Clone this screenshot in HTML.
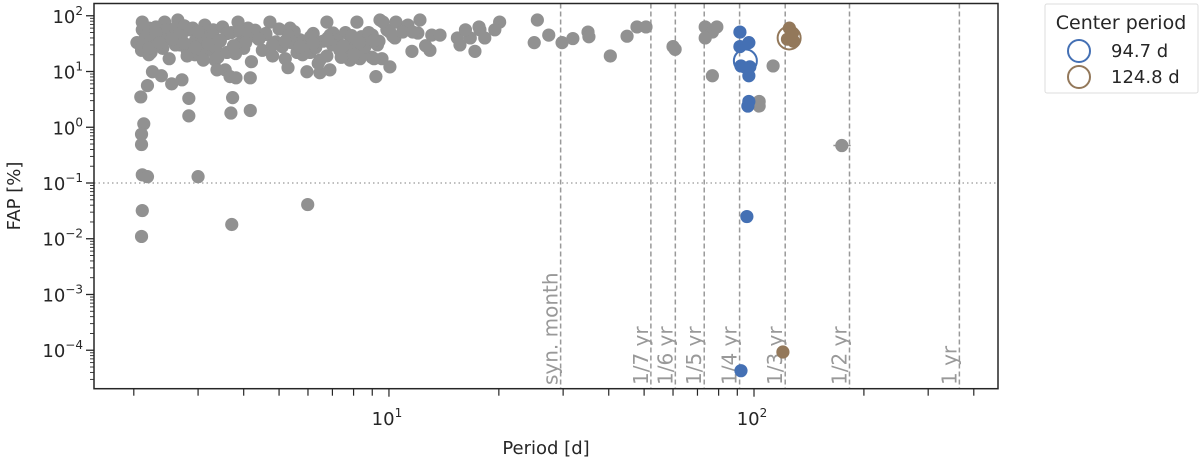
<!DOCTYPE html>
<html><head><meta charset="utf-8"><style>
body{margin:0;background:#fff;}
svg{display:block;font-family:"DejaVu Sans","Liberation Sans",sans-serif;}
</style></head><body>
<svg id="chart" width="1200" height="460" viewBox="0 0 1200 460" xmlns="http://www.w3.org/2000/svg">
<rect x="94" y="3.5" width="904" height="385" fill="#fff"/>
<g id="grid"></g><g id="marks"></g><g id="axes"></g>
<g>
<rect x="1045" y="4" width="153" height="89" fill="#fff" stroke="#ddd" stroke-width="1" rx="2"/>
<text x="1121" y="29" font-size="19" fill="#262626" text-anchor="middle">Center period</text>
<circle cx="1079" cy="51" r="11" fill="none" stroke="#4470b4" stroke-width="2"/>
<text x="1111" y="57" font-size="18" fill="#262626">94.7 d</text>
<circle cx="1079" cy="77" r="11" fill="none" stroke="#93785a" stroke-width="2"/>
<text x="1111" y="83" font-size="18" fill="#262626">124.8 d</text>
</g>
</svg>
<script>
const grayPeriod=[2.11,2.11,2.04,2.1,2.23,2.28,2.43,2.64,2.54,2.68,2.85,3.13,3.03,3.23,2.94,3.34,3.56,3.67,4.11,3.86,4.49,4.72,5.36,5.71,6.08,6.47,7.03,7.34,7.82,8.12,8.54,8.98,9.39,9.87,9.45,10.45,10.25,11.27,12.0,12.95,15.65,16.7,17.75,20.1,
2.09,2.13,2.1,2.1,2.11,2.18,2.11,2.1,2.18,2.25,2.38,2.54,2.71,2.83,2.83,3.0,3.38,3.73,3.69,3.71,3.81,4.17,4.17,5.99,9.21,7.48,8.33,9.57,10.06,8.33,8.17,6.76,6.76,6.89,6.47,5.96,5.29,
9.63,10.06,10.38,10.9,11.63,12.16,11.56,12.6,13.1,13.8,15.4,16.2,17.65,17.2,18.3,19.5,25.5,25.0,27.4,29.8,31.9,35.1,35.3,40.4,44.9,47.8,50.6,60.0,60.8,73.5,76.9,79.1,73.5,76.9,112.8,103.3,103.3,
2.2,2.3,2.45,2.6,2.75,2.9,3.1,3.3,3.5,3.7,3.9,4.3,4.6,5.0,5.5,6.2,6.9,7.6,8.4,9.0,
2.15,2.35,2.5,2.7,2.95,3.2,3.45,3.9,4.4,4.9,5.4,6.0,6.6,7.2,7.9,8.7,9.3,
2.25,2.4,2.6,2.8,3.05,3.35,3.6,4.0,4.5,5.1,5.6,6.3,7.0,7.7,8.6,
2.2,2.5,2.8,3.1,3.4,3.8,4.2,4.8,5.2,5.8,6.4,7.4,8.0,9.1,
2.3,2.65,3.0,3.3,3.6,4.1,4.6,5.3,6.1,6.8,7.9,8.8,
2.12,2.2,2.35,2.55,2.75,2.95,3.2,3.45,3.75,4.05,4.4,4.8,5.2,5.7,6.2,6.8,7.5,8.3,9.1];
const grayFAP=[77,56,33,24,22,37,77,84,45,30,56,68,40,24,20,16,10.7,8.1,60,77,45,77,60,37,22,16,49,24,16,30,22,18,35,56,84,77,43,68,49,24,30,40,56,77,
3.5,1.15,0.75,0.49,0.14,0.13,0.032,0.011,5.6,9.9,8.4,6.0,7.1,3.3,1.6,0.13,10.7,3.4,1.8,0.018,7.7,7.7,2.0,0.041,8.1,19,17,17,12.1,35,77,77,19,10.7,9.5,9.9,11.7,
77,51,40,51,51,84,23,29,45,45,40,56,63,23,40,56,84,33,45,33,39,51,42,19,43,63,63,28,25,63,51,63,40,8.4,12.6,2.9,2.4,
60,63,55,60,66,60,50,56,63,50,52,55,48,58,52,48,45,50,42,45,
40,42,38,44,36,40,35,32,38,34,33,30,35,36,38,34,30,
28,26,30,24,25,27,22,26,24,28,22,27,30,25,28,
20,17,19,16,18,21,15,19,17,20,14,18,20,17,
50,45,52,45,48,40,46,44,42,40,44,50,
30,26,33,38,32,27,31,36,29,33,38,30,35,28,32,37,29,33,36];
const grayErrPeriod=[174],grayXerrLo=[165],grayXerrHi=[184],grayErrFAP=[0.47];
const bluePeriod=[91.5,91.5,96.8,92.1,97.4,96.8,96.8,96.2,95.6,92.1];
const blueFAP=[51,28,33,12.6,12.1,8.4,2.9,2.4,0.025,0.000043];
const brownPeriod=[125.0,127.5,123.5,128.3,120];
const brownFAP=[60,49,38,35,0.000093];
const centerPeriod=[94.7,124.8];
const centerFAP=[15.5,40];
const centerColors=['#4470b4','#93785a'];
const vlinePeriod=[29.53,52.18,60.88,73.05,91.31,121.75,182.63,365.25];
const vlineLabels=['syn. month','1/7 yr','1/6 yr','1/5 yr','1/4 yr','1/3 yr','1/2 yr','1 yr'];
const yTickExp=[2,1,0,-1,-2,-3,-4];
const xTickVals=[10,100];

const NS='http://www.w3.org/2000/svg';
const X0=94,X1=998,Y0=3.5,Y1=388.7;
const LX0=Math.log10(1.556),LX1=Math.log10(466),LY0=-4.69,LY1=2.22;
function xs(p){return X0+(Math.log10(p)-LX0)/(LX1-LX0)*(X1-X0);}
function ys(v){return Y1-(Math.log10(v)-LY0)/(LY1-LY0)*(Y1-Y0);}
function mk(tag,attrs,parent){const e=document.createElementNS(NS,tag);for(const k in attrs)e.setAttribute(k,attrs[k]);parent.appendChild(e);return e;}
const grid=document.getElementById('grid'),marks=document.getElementById('marks'),axes=document.getElementById('axes');

let l=mk('line',{x1:X0,x2:X1,y1:ys(0.1),y2:ys(0.1),stroke:'#999','stroke-width':1.2,'stroke-dasharray':'1.5,3'},grid);


vlinePeriod.forEach((p,i)=>{
 const x=xs(p);
 const ln=mk('line',{x1:x,x2:x,y1:Y0,y2:Y1,stroke:'#999','stroke-width':1.5,'stroke-dasharray':'5,3'},grid);
 
 
 const t=mk('text',{x:0,y:0,'font-size':20,fill:'#999',transform:`translate(${x-3},385) rotate(-90)`},grid);
 t.textContent=vlineLabels[i];
 
 
});
grayPeriod.forEach((p,i)=>{
 const c=mk('circle',{cx:xs(p),cy:ys(grayFAP[i]),r:6.6,fill:'#919191'},marks);
 
 
});
grayErrFAP.forEach((v,i)=>{
 const e=mk('line',{x1:xs(grayXerrLo[i]),x2:xs(grayXerrHi[i]),y1:ys(v),y2:ys(v),stroke:'#919191','stroke-width':1.5},marks);
 
 
 const c=mk('circle',{cx:xs(grayErrPeriod[i]),cy:ys(v),r:6.6,fill:'#919191'},marks);
 
 
});
bluePeriod.forEach((p,i)=>{
 const c=mk('circle',{cx:xs(p),cy:ys(blueFAP[i]),r:6.6,fill:'#4470b4'},marks);
 
 
});
brownPeriod.forEach((p,i)=>{
 const c=mk('circle',{cx:xs(p),cy:ys(brownFAP[i]),r:6.6,fill:'#93785a'},marks);
 
 
});
centerPeriod.forEach((p,i)=>{
 const c=mk('circle',{cx:xs(p),cy:ys(centerFAP[i]),r:11.5,fill:'none',stroke:centerColors[i],'stroke-width':2},marks);
 
 
});
const fr=mk('rect',{x:X0,y:Y0,width:X1-X0,height:Y1-Y0,fill:'none',stroke:'#262626','stroke-width':1.5},axes);


for(let e=-5;e<=2;e++){
 for(let m=1;m<10;m++){
  const v=m*Math.pow(10,e),y=ys(v);
  if(y<Y0-0.5||y>Y1+0.5)continue;
  const tk=mk('line',{x1:X0-(m===1?8:4),x2:X0,y1:y,y2:y,stroke:'#262626','stroke-width':m===1?1.3:0.9},axes);
  
  
 }
}
yTickExp.forEach(e=>{
 const t=mk('text',{x:83,y:ys(Math.pow(10,e))+7,'font-size':18,fill:'#262626','text-anchor':'end'},axes);
 
 
 const s=mk('tspan',{},t);s.textContent='10';
 const sup=mk('tspan',{dy:-8,'font-size':12},t);sup.textContent=e<0?'\u2212'+(-e):String(e);
});
for(let e=0;e<=2;e++){
 for(let m=1;m<10;m++){
  const v=m*Math.pow(10,e),x=xs(v);
  if(x<X0||x>X1)continue;
  const tk=mk('line',{x1:x,x2:x,y1:Y1,y2:Y1+(m===1?8:7),stroke:'#262626','stroke-width':1.2},axes);
  
  
 }
}
xTickVals.forEach(v=>{
 const t=mk('text',{x:xs(v)-2,y:425,'font-size':18,fill:'#262626','text-anchor':'middle'},axes);
 
 
 const s=mk('tspan',{},t);s.textContent='10';
 const sup=mk('tspan',{dy:-8,'font-size':12},t);sup.textContent=String(Math.round(Math.log10(v)));
});
const xt=mk('text',{x:546,y:454,'font-size':18,fill:'#262626','text-anchor':'middle'},axes);
xt.textContent='Period [d]';


const yt=mk('text',{x:0,y:0,'font-size':18,fill:'#262626','text-anchor':'middle',transform:'translate(20,196) rotate(-90)'},axes);
yt.textContent='FAP [%]';


</script>
</body></html>
